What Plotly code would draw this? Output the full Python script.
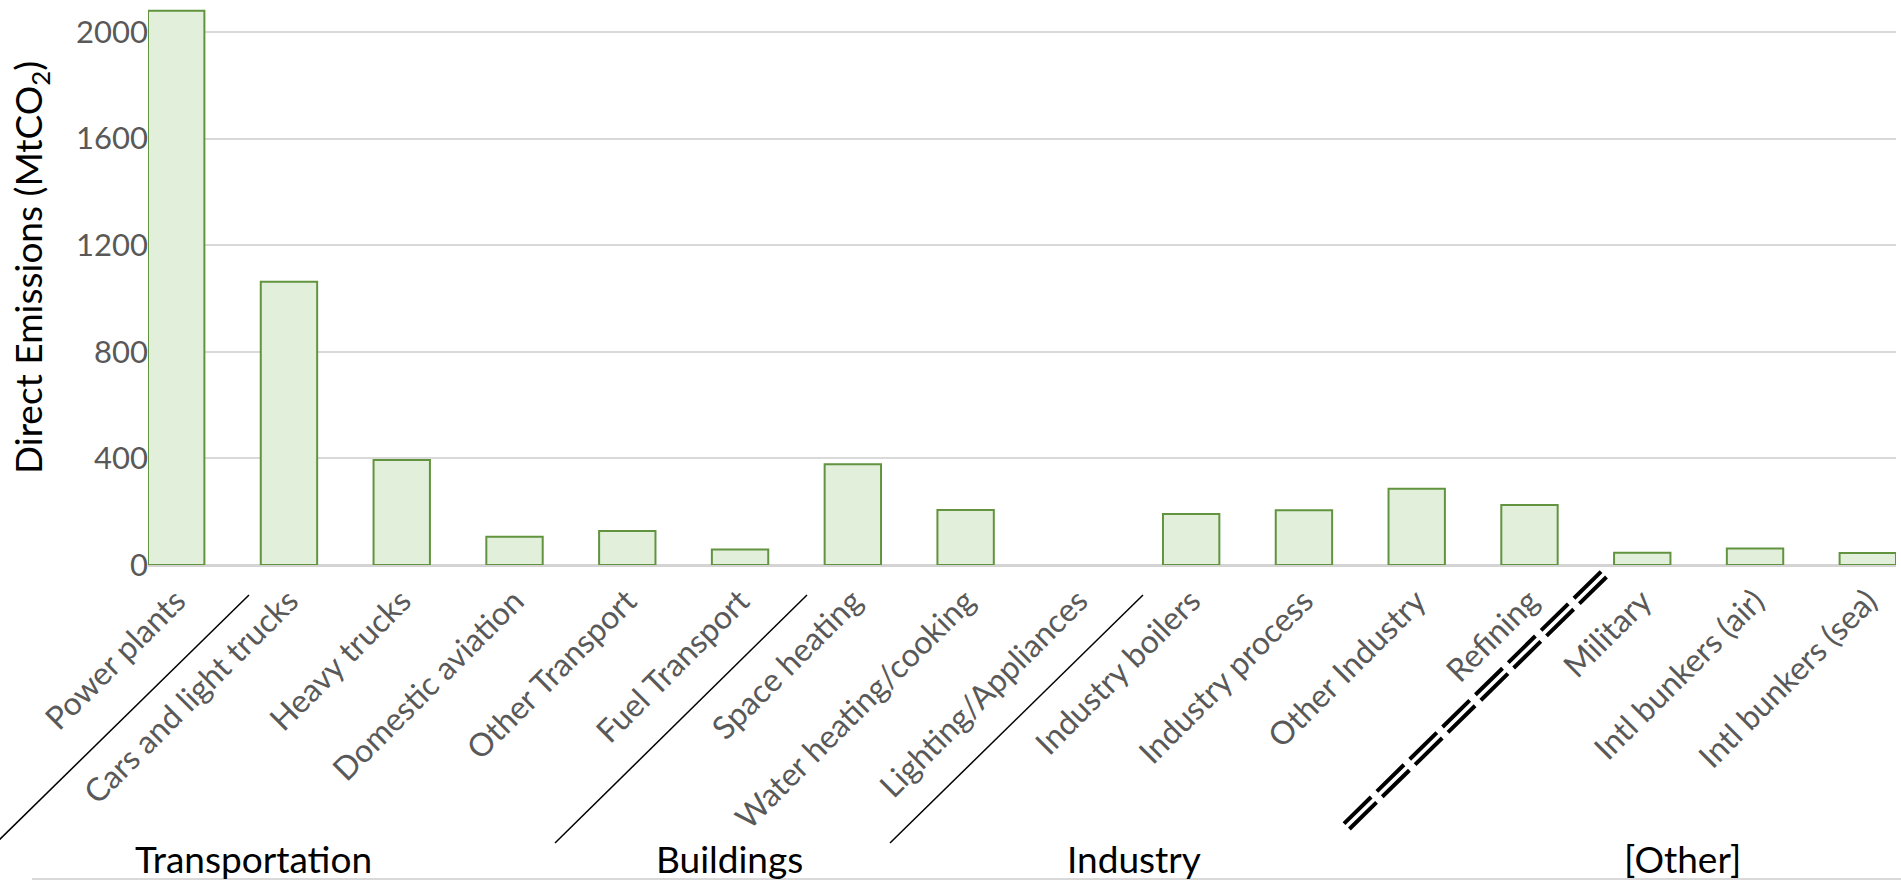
import plotly.graph_objects as go

# Direct CO2 emissions by source
categories = [
    "Power plants", "Cars and light trucks", "Heavy trucks", "Domestic aviation",
    "Other Transport", "Fuel Transport", "Space heating", "Water heating/cooking",
    "Lighting/Appliances", "Industry boilers", "Industry process", "Other Industry",
    "Refining", "Military", "Intl bunkers (air)", "Intl bunkers (sea)",
]
emissions = [2080, 1063, 394, 106, 128, 58, 378, 206, 0, 191, 205, 286, 225, 46, 62, 45]

group_labels = ["Transportation", "Buildings", "Industry", "[Other]"]
y_ticks = [0, 400, 800, 1200, 1600, 2000]
y_title = "Direct Emissions (MtCO<sub>2</sub>)"

W, H = 1901, 881
ML, MR, MT, MB = 148, 5, 0, 316
PW = W - ML - MR
PH = H - MT - MB
FONT = "Lato, 'Open Sans', sans-serif"


def px(x):
    return (x - ML) / PW


def py(y):
    return (H - MB - y) / PH


# empty categories get no outline so nothing shows on the baseline
outline_widths = [2 if v > 0 else 0 for v in emissions]

fig = go.Figure(
    go.Bar(
        x=categories,
        y=emissions,
        width=0.5,
        marker=dict(color="#e2efda", line=dict(color="#62943f", width=outline_widths)),
        hoverinfo="x+y",
    )
)

shapes = []
# thin separators between sector groups
for (x0, y0, x1, y1) in [(249, 595, -4, 843), (807, 595, 555, 843), (1143, 595, 890, 843)]:
    shapes.append(dict(type="line", xref="paper", yref="paper",
                       x0=px(x0), y0=py(y0), x1=px(x1), y1=py(y1),
                       line=dict(color="black", width=1.5)))
# double dashed break before the "Other" group (length = 7 periods + one dash)
for off in (-2.7, 2.7):
    shapes.append(dict(type="line", xref="paper", yref="paper",
                       x0=px(1346.7 + off), y0=py(826.3 + off),
                       x1=px(1603.8 + off), y1=py(574.3 + off),
                       line=dict(color="black", width=4, dash="38px,8px")))
# bottom rule
shapes.append(dict(type="line", xref="paper", yref="paper",
                   x0=px(32), y0=py(879), x1=px(1901), y1=py(879),
                   line=dict(color="#d9d9d9", width=2)))

annotations = []
for label, cx in zip(group_labels, [253.5, 729, 1134, 1682]):
    annotations.append(dict(text=label, xref="paper", yref="paper",
                            x=px(cx), y=py(858), xanchor="center", yanchor="middle",
                            showarrow=False, font=dict(family=FONT, size=37, color="black")))
# vertical axis title
annotations.append(dict(text=y_title, xref="paper", yref="paper",
                        x=px(30), y=py(268), xanchor="center", yanchor="middle",
                        textangle=-90, showarrow=False,
                        font=dict(family=FONT, size=37, color="black")))

fig.update_layout(
    width=W, height=H,
    margin=dict(l=ML, r=MR, t=MT, b=MB, pad=0),
    paper_bgcolor="white", plot_bgcolor="white",
    showlegend=False,
    shapes=shapes,
    annotations=annotations,
    xaxis=dict(
        type="category",
        range=[-0.25, len(categories) - 0.75],
        tickangle=-45,
        tickfont=dict(family=FONT, size=32, color="#595959"),
        ticklabelstandoff=10,
        showgrid=False, showline=False, ticks="",
        automargin=False,
    ),
    yaxis=dict(
        range=[0, 2120],
        tickvals=y_ticks,
        ticktext=[str(v) for v in y_ticks],
        tickfont=dict(family=FONT, size=31, color="#595959"),
        ticklabelstandoff=-1,
        showgrid=True, gridcolor="#d9d9d9", gridwidth=1.5,
        zeroline=True, zerolinecolor="#d4d4d4", zerolinewidth=2.5,
        showline=False, ticks="",
        automargin=False,
    ),
)

fig.write_html("out.html")
